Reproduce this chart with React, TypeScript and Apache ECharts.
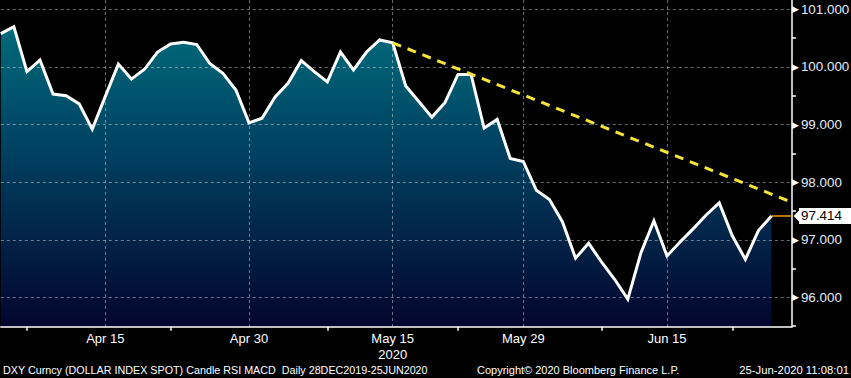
import React, { useEffect, useRef } from 'react';
import * as echarts from 'echarts';

// Trading days shown (weekdays), 03-Apr-2020 .. 25-Jun-2020
const dates = [
  '2020-04-03',
  '2020-04-06', '2020-04-07', '2020-04-08', '2020-04-09', '2020-04-10',
  '2020-04-13', '2020-04-14', '2020-04-15', '2020-04-16', '2020-04-17',
  '2020-04-20', '2020-04-21', '2020-04-22', '2020-04-23', '2020-04-24',
  '2020-04-27', '2020-04-28', '2020-04-29', '2020-04-30', '2020-05-01',
  '2020-05-04', '2020-05-05', '2020-05-06', '2020-05-07', '2020-05-08',
  '2020-05-11', '2020-05-12', '2020-05-13', '2020-05-14', '2020-05-15',
  '2020-05-18', '2020-05-19', '2020-05-20', '2020-05-21', '2020-05-22',
  '2020-05-25', '2020-05-26', '2020-05-27', '2020-05-28', '2020-05-29',
  '2020-06-01', '2020-06-02', '2020-06-03', '2020-06-04', '2020-06-05',
  '2020-06-08', '2020-06-09', '2020-06-10', '2020-06-11', '2020-06-12',
  '2020-06-15', '2020-06-16', '2020-06-17', '2020-06-18', '2020-06-19',
  '2020-06-22', '2020-06-23', '2020-06-24', '2020-06-25',
];

// DXY close values
const dxyClose = [
  100.58,
  100.70, 99.92, 100.12, 99.53, 99.50,
  99.36, 98.92, 99.49, 100.05, 99.79,
  99.96, 100.26, 100.40, 100.43, 100.39,
  100.06, 99.89, 99.60, 99.03, 99.11,
  99.48, 99.72, 100.11, 99.92, 99.74,
  100.26, 99.95, 100.26, 100.47, 100.42,
  99.67, 99.40, 99.13, 99.38, 99.87,
  99.87, 98.94, 99.09, 98.41, 98.36,
  97.86, 97.70, 97.31, 96.68, 96.94,
  96.61, 96.31, 95.97, 96.77, 97.33,
  96.72, 96.96, 97.19, 97.43, 97.64,
  97.07, 96.66, 97.16, 97.414,
];

// x-axis tick labels
const xLabelDates = ['2020-04-15', '2020-04-30', '2020-05-15', '2020-05-29', '2020-06-15'];
const xLabelTexts = ['Apr 15', 'Apr 30', 'May 15\n2020', 'May 29', 'Jun 15'];
const xMinorTickDates = ['2020-04-07', '2020-04-22', '2020-05-08', '2020-05-22', '2020-06-08', '2020-06-22'];

// y-axis ticks
const yLabelValues = [96, 97, 98, 99, 100, 101];
const yMinorTickValues = [95.5, 96.5, 97.5, 98.5, 99.5, 100.5];

// Visible window (x in trading-day index units, y in index points)
const xMin = 0;
const xMax = 60.57;
const yMin = 95.491;
const yMax = 101.163;

// Resistance trend line (start at May 15 high, runs to right edge)
const trendX = [30, 60.57];
const trendY = [100.42, 97.65];

const footerLeft = 'DXY Curncy (DOLLAR INDEX SPOT) Candle RSI MACD  Daily 28DEC2019-25JUN2020';
const footerMid = 'Copyright\u00A9 2020 Bloomberg Finance L.P.';
const footerRight = '25-Jun-2020 11:08:01';

const FONT = '"Liberation Sans", Arial, sans-serif';

export default function App() {
  const ref = useRef<HTMLDivElement>(null);

  useEffect(() => {
    if (!ref.current) return;
    const chart = echarts.init(ref.current, null, { renderer: 'svg' });

    const xLabelIdx = xLabelDates.map((d) => dates.indexOf(d));
    const xMinorIdx = xMinorTickDates.map((d) => dates.indexOf(d));
    const lineData = dxyClose.map((v, i) => [i, v]);
    const lastIdx = dxyClose.length - 1;
    const last = dxyClose[lastIdx];
    const trendData = trendX.map((x, i) => [x, trendY[i]]);

    const grid = 'rgba(255,255,255,0.42)';

    const option: any = {
      animation: false,
      backgroundColor: '#000',
      grid: { left: 0.8, right: 59, top: 0, bottom: 51.3, outerBoundsMode: 'none', containLabel: false },
      xAxis: [
        {
          type: 'value',
          min: xMin,
          max: xMax,
          z: 3,
          axisLine: { show: true, onZero: false, lineStyle: { color: '#fff', width: 1.5 } },
          axisTick: { show: false, customValues: xLabelIdx },
          axisLabel: {
            customValues: xLabelIdx,
            color: '#fff',
            fontFamily: FONT,
            fontSize: 13,
            lineHeight: 16,
            margin: 4,
            formatter: (v: number) => {
              const k = xLabelIdx.indexOf(Math.round(v));
              return k >= 0 ? xLabelTexts[k] : '';
            },
          },
          splitLine: { show: true, lineStyle: { color: grid, width: 1, type: [3, 3] } },
        },
        {
          type: 'value',
          position: 'bottom',
          min: xMin,
          max: xMax,
          z: 3,
          axisLine: { show: false, onZero: false },
          axisTick: { show: true, customValues: xMinorIdx, length: 4, lineStyle: { color: '#fff', width: 1.5 } },
          axisLabel: { show: false },
          splitLine: { show: false },
        },
      ],
      yAxis: [
        {
          type: 'value',
          position: 'right',
          min: yMin,
          max: yMax,
          z: 3,
          axisLine: { show: true, onZero: false, lineStyle: { color: '#fff', width: 1.5 } },
          axisTick: { show: false, customValues: yLabelValues },
          axisLabel: {
            customValues: yLabelValues,
            margin: 0,
            formatter: (v: number) => `{t|\u25B6}{v|${v.toFixed(3)}}`,
            rich: {
              t: { color: '#fff', fontFamily: '"DejaVu Sans"', fontSize: 9, padding: [0, 2, 0, 0] },
              v: { color: '#e4ecf8', fontFamily: FONT, fontSize: 13.4 },
            },
          },
          splitLine: { show: true, lineStyle: { color: grid, width: 1, type: [3, 3] } },
        },
        {
          type: 'value',
          position: 'right',
          min: yMin,
          max: yMax,
          z: 3,
          axisLine: { show: false, onZero: false },
          axisTick: { show: true, customValues: yMinorTickValues, length: 4, lineStyle: { color: '#fff', width: 1.5 } },
          axisLabel: { show: false },
          splitLine: { show: false },
        },
        {
          type: 'value',
          position: 'right',
          min: yMin,
          max: yMax,
          z: 4,
          axisLine: { show: false, onZero: false },
          axisTick: { show: false, customValues: [last] },
          axisLabel: {
            customValues: [last],
            margin: 7,
            color: '#000',
            backgroundColor: '#ffffff',
            fontFamily: FONT,
            fontSize: 13.4,
            padding: [2, 14, 1, 2],
            formatter: (v: number) => v.toFixed(3),
          },
          splitLine: { show: false },
        },
      ],
      series: [
        {
          type: 'line',
          data: lineData,
          symbol: 'none',
          silent: true,
          z: 1,
          lineStyle: { width: 0, opacity: 0 },
          areaStyle: {
            origin: 'start',
            opacity: 1,
            color: {
              type: 'linear',
              x: 0,
              y: 0,
              x2: 0,
              y2: 327,
              global: true,
              colorStops: [
                { offset: 0, color: '#00737f' },
                { offset: 0.45, color: '#004262' },
                { offset: 1, color: '#03052d' },
              ],
            },
          },
        },
        {
          type: 'line',
          data: lineData,
          symbol: 'none',
          silent: true,
          z: 5,
          lineStyle: { color: '#ffffff', width: 3, join: 'miter' },
          markLine: {
            silent: true,
            symbol: ['none', 'none'],
            lineStyle: { color: '#f09a1a', width: 1.5, type: 'solid' },
            label: { show: false },
            data: [[{ coord: [lastIdx, last] }, { coord: [xMax, last] }]],
          },
          markPoint: {
            silent: true,
            symbol: 'triangle',
            symbolSize: [14, 7],
            symbolRotate: 90,
            symbolOffset: [5, 0],
            itemStyle: { color: '#ffffff' },
            label: { show: false },
            data: [{ coord: [xMax, last] }],
          },
        },
        {
          type: 'line',
          data: trendData,
          symbol: 'none',
          silent: true,
          z: 6,
          lineStyle: { color: '#f6e43a', width: 3, type: [9, 7] },
        },
      ],
      graphic: [
        {
          type: 'text',
          left: 3,
          top: 364,
          silent: true,
          style: { text: footerLeft, fill: '#fff', fontFamily: FONT, fontSize: 10.75 },
        },
        {
          type: 'text',
          left: 477,
          top: 364,
          silent: true,
          style: { text: footerMid, fill: '#fff', fontFamily: FONT, fontSize: 11 },
        },
        {
          type: 'text',
          right: 2,
          top: 364,
          silent: true,
          style: { text: footerRight, fill: '#fff', fontFamily: FONT, fontSize: 11.3 },
        },
      ],
    };

    chart.setOption(option);
    return () => chart.dispose();
  }, []);

  return (
    <div
      ref={ref}
      style={{ position: 'fixed', left: 0, top: 0, width: 851, height: 378, background: '#000' }}
    />
  );
}
